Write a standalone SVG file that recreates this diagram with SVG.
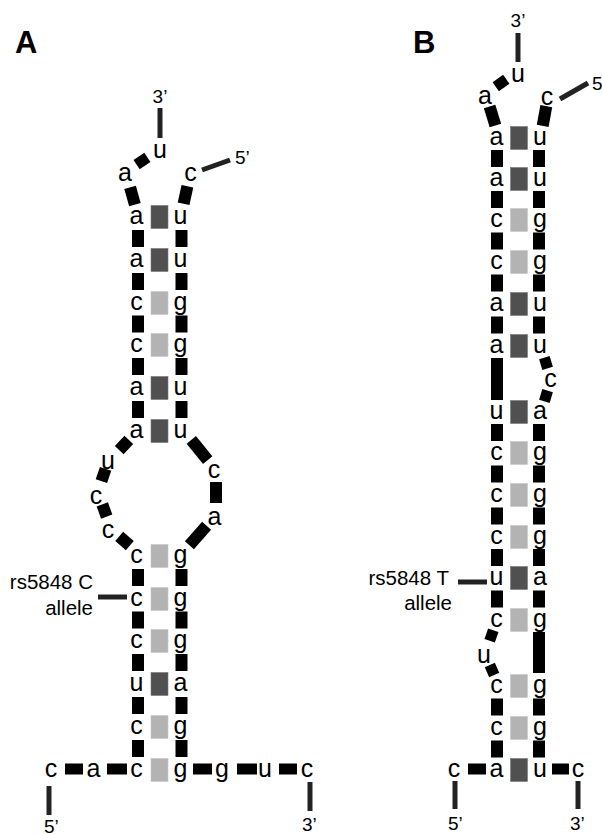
<svg xmlns="http://www.w3.org/2000/svg" width="602" height="834" viewBox="0 0 602 834">
<style>
text{font-family:"Liberation Sans",Arial,sans-serif;fill:#000}
.nt{font-size:25px;text-anchor:middle}
.lb{font-size:19px}
.mid{text-anchor:middle}
.rt{text-anchor:end}
.tag{font-size:20.5px}
.pl{font-size:31px;font-weight:bold}
.bb{stroke:#000;stroke-width:12;fill:none}
.bs{stroke:#000;stroke-width:11;fill:none}
.ln{stroke:#222;stroke-width:5;fill:none}
.dk{fill:#505050;stroke:#777;stroke-width:0.6}
.lt{fill:#b3b3b3;stroke:#c6c6c6;stroke-width:0.6}
</style>
<rect width="602" height="834" fill="#fff"/>
<text class="pl" x="15" y="53">A</text>
<text class="pl" x="413" y="53">B</text>

<g id="connectors">
<!-- Panel A backbone -->
<line class="ln" x1="160" y1="108" x2="160" y2="138"/>
<line class="ln" x1="202" y1="170" x2="230" y2="160"/>
<line class="ln" x1="49" y1="786" x2="49" y2="815"/>
<line class="ln" x1="310" y1="782" x2="310" y2="811"/>
<line class="ln" x1="98" y1="597" x2="127" y2="597"/>
<line class="bs" x1="136.6" y1="164.6" x2="147.4" y2="157.4"/>
<line class="bb" x1="130.1" y1="187.3" x2="134.9" y2="204.7"/>
<line class="bb" x1="187.4" y1="186.2" x2="183.6" y2="203.8"/>
<path class="bb" d="M138 230V247M138 273V290M138 315.5V332.5M138 358V375M138 401V418M138 569V586M138 611.5V628.5M138 654V671M138 697V714M138 740V757"/>
<path class="bb" d="M181.5 230V247M181.5 273V290M181.5 315.5V332.5M181.5 358V375M181.5 401V418M181.5 569V586M181.5 611.5V628.5M181.5 654V671M181.5 697V714M181.5 740V757"/>
<line class="bb" x1="128.8" y1="439.9" x2="119.2" y2="450.1"/>
<line class="bb" x1="105.6" y1="468.9" x2="101.4" y2="481.1"/>
<line class="bb" x1="102.3" y1="504.4" x2="106.7" y2="516.6"/>
<line class="bb" x1="119.2" y1="536.4" x2="129.8" y2="545.6"/>
<line class="bb" x1="191.3" y1="439.9" x2="207.7" y2="460.1"/>
<line class="bb" x1="216" y1="482" x2="216" y2="503"/>
<line class="bb" x1="206.6" y1="525.8" x2="189.4" y2="545.2"/>
<path class="bs" d="M65 769H83M107 769H127M193 769H212M237 769H257M279 769H297"/>
<!-- Panel B backbone -->
<line class="ln" x1="518" y1="33" x2="518" y2="62"/>
<line class="ln" x1="560" y1="99" x2="588" y2="83"/>
<line class="ln" x1="455" y1="781" x2="455" y2="809"/>
<line class="ln" x1="578" y1="781" x2="578" y2="809"/>
<line class="ln" x1="458" y1="582" x2="487" y2="582"/>
<line class="bs" x1="495.7" y1="86.7" x2="506.3" y2="79.3"/>
<line class="bb" x1="489.6" y1="106.4" x2="495.4" y2="125.6"/>
<line class="bb" x1="546.3" y1="106.2" x2="542.7" y2="125.8"/>
<path class="bb" d="M497 150V167M497 191V208M497 232.5V249.5M497 274.5V291.5M497 316.5V333.5M497 358V400M497 424V441M497 465.5V482.5M497 507.5V524.5M497 549V566M497 590.5V607.5M497 698.5V715.5M497 740.5V757.5"/>
<path class="bb" d="M539 150V167M539 191V208M539 232.5V249.5M539 274.5V291.5M539 316.5V333.5M539 424V441M539 465.5V482.5M539 507.5V524.5M539 549V566M539 590.5V607.5M539 632V673M539 698.5V715.5M539 740.5V757.5"/>
<line class="bs" x1="544.4" y1="357.7" x2="547.6" y2="368.3"/>
<line class="bs" x1="547.6" y1="390.7" x2="544.4" y2="401.3"/>
<line class="bs" x1="493.3" y1="630.3" x2="489.7" y2="640.7"/>
<line class="bs" x1="489.8" y1="665" x2="494.2" y2="675"/>
<path class="bs" d="M468 769H486M552 769H569"/>
</g>

<g id="A-pairs">
<rect class="dk" x="151" y="205.5" width="17" height="23"/>
<rect class="dk" x="151" y="248.5" width="17" height="23"/>
<rect class="lt" x="151" y="291.5" width="17" height="23"/>
<rect class="lt" x="151" y="333.5" width="17" height="23"/>
<rect class="dk" x="151" y="376.5" width="17" height="23"/>
<rect class="dk" x="151" y="419.5" width="17" height="23"/>
<rect class="lt" x="151" y="544.5" width="17" height="23"/>
<rect class="lt" x="151" y="587.5" width="17" height="23"/>
<rect class="lt" x="151" y="629.5" width="17" height="23"/>
<rect class="dk" x="151" y="672.5" width="17" height="23"/>
<rect class="lt" x="151" y="715.5" width="17" height="23"/>
<rect class="lt" x="151" y="758.5" width="17" height="23"/>
</g>
<g id="B-pairs">
<rect class="dk" x="510.5" y="126.5" width="17" height="23"/>
<rect class="dk" x="510.5" y="167.5" width="17" height="23"/>
<rect class="lt" x="510.5" y="208.5" width="17" height="23"/>
<rect class="lt" x="510.5" y="250.5" width="17" height="23"/>
<rect class="dk" x="510.5" y="292.5" width="17" height="23"/>
<rect class="dk" x="510.5" y="334.5" width="17" height="23"/>
<rect class="dk" x="510.5" y="400.5" width="17" height="23"/>
<rect class="lt" x="510.5" y="441.5" width="17" height="23"/>
<rect class="lt" x="510.5" y="483.5" width="17" height="23"/>
<rect class="lt" x="510.5" y="525.5" width="17" height="23"/>
<rect class="dk" x="510.5" y="566.5" width="17" height="23"/>
<rect class="lt" x="510.5" y="608.5" width="17" height="23"/>
<rect class="lt" x="510.5" y="674.5" width="17" height="23"/>
<rect class="lt" x="510.5" y="716.5" width="17" height="23"/>
<rect class="dk" x="510.5" y="758.5" width="17" height="23"/>
</g>

<!-- Panel A nucleotides -->
<g id="A-end3top"><text class="lb mid" x="160" y="103">3’</text></g>
<g id="A-end5top"><text class="lb" x="235" y="164">5’</text></g>
<g id="A-end5bot"><text class="lb" x="44" y="833">5’</text></g>
<g id="A-end3bot"><text class="lb" x="302" y="831">3’</text></g>
<g id="A-snp"><text class="tag rt" x="93" y="589">rs5848 C</text><text class="tag rt" x="93" y="615">allele</text></g>
<g id="A-top-u"><text class="nt" x="160" y="158">u</text></g>
<g id="A-top-a"><text class="nt" x="125" y="181">a</text></g>
<g id="A-top-c"><text class="nt" x="190.5" y="181">c</text></g>
<g id="A-L1"><text class="nt" x="136.5" y="224">a</text></g>
<g id="A-L2"><text class="nt" x="136.5" y="267">a</text></g>
<g id="A-L3"><text class="nt" x="136.5" y="310">c</text></g>
<g id="A-L4"><text class="nt" x="136.5" y="352">c</text></g>
<g id="A-L5"><text class="nt" x="136.5" y="395">a</text></g>
<g id="A-L6"><text class="nt" x="136.5" y="438">a</text></g>
<g id="A-loop-u"><text class="nt" x="108" y="469">u</text></g>
<g id="A-loop-c1"><text class="nt" x="96" y="504">c</text></g>
<g id="A-loop-c2"><text class="nt" x="108" y="538">c</text></g>
<g id="A-L7"><text class="nt" x="136.5" y="563">c</text></g>
<g id="A-L8"><text class="nt" x="136.5" y="606">c</text></g>
<g id="A-L9"><text class="nt" x="136.5" y="648">c</text></g>
<g id="A-L10"><text class="nt" x="136.5" y="691">u</text></g>
<g id="A-L11"><text class="nt" x="136.5" y="734">c</text></g>
<g id="A-L12"><text class="nt" x="136.5" y="777">c</text></g>
<g id="A-bot-a"><text class="nt" x="93.5" y="777">a</text></g>
<g id="A-bot-c"><text class="nt" x="51" y="777">c</text></g>
<g id="A-R1"><text class="nt" x="180.5" y="224">u</text></g>
<g id="A-R2"><text class="nt" x="180.5" y="267">u</text></g>
<g id="A-R3"><text class="nt" x="180.5" y="310">g</text></g>
<g id="A-R4"><text class="nt" x="180.5" y="352">g</text></g>
<g id="A-R5"><text class="nt" x="180.5" y="395">u</text></g>
<g id="A-R6"><text class="nt" x="180.5" y="438">u</text></g>
<g id="A-loop-c3"><text class="nt" x="214" y="478">c</text></g>
<g id="A-loop-a"><text class="nt" x="214.5" y="525">a</text></g>
<g id="A-R7"><text class="nt" x="180.5" y="563">g</text></g>
<g id="A-R8"><text class="nt" x="180.5" y="606">g</text></g>
<g id="A-R9"><text class="nt" x="180.5" y="648">g</text></g>
<g id="A-R10"><text class="nt" x="180.5" y="691">a</text></g>
<g id="A-R11"><text class="nt" x="180.5" y="734">g</text></g>
<g id="A-R12"><text class="nt" x="180.5" y="777">g</text></g>
<g id="A-bot-g"><text class="nt" x="222" y="777">g</text></g>
<g id="A-bot-u"><text class="nt" x="265" y="777">u</text></g>
<g id="A-bot-c2"><text class="nt" x="307" y="777">c</text></g>

<!-- Panel B nucleotides -->
<g id="B-end3top"><text class="lb mid" x="518" y="27">3’</text></g>
<g id="B-end5top"><text class="lb" x="592" y="90">5’</text></g>
<g id="B-end5bot"><text class="lb" x="448" y="830">5’</text></g>
<g id="B-end3bot"><text class="lb" x="570" y="830">3’</text></g>
<g id="B-snp"><text class="tag rt" x="449" y="585">rs5848 T</text><text class="tag rt" x="452" y="610">allele</text></g>
<g id="B-top-u"><text class="nt" x="518" y="82">u</text></g>
<g id="B-top-a"><text class="nt" x="485" y="104">a</text></g>
<g id="B-top-c"><text class="nt" x="547" y="105">c</text></g>
<g id="B-L1"><text class="nt" x="496.5" y="145">a</text></g>
<g id="B-L2"><text class="nt" x="496.5" y="186">a</text></g>
<g id="B-L3"><text class="nt" x="496.5" y="227">c</text></g>
<g id="B-L4"><text class="nt" x="496.5" y="269">c</text></g>
<g id="B-L5"><text class="nt" x="496.5" y="311">a</text></g>
<g id="B-L6"><text class="nt" x="496.5" y="353">a</text></g>
<g id="B-L7"><text class="nt" x="496.5" y="419">u</text></g>
<g id="B-L8"><text class="nt" x="496.5" y="460">c</text></g>
<g id="B-L9"><text class="nt" x="496.5" y="502">c</text></g>
<g id="B-L10"><text class="nt" x="496.5" y="544">c</text></g>
<g id="B-L11"><text class="nt" x="496.5" y="585">u</text></g>
<g id="B-L12"><text class="nt" x="496.5" y="627">c</text></g>
<g id="B-bulge-u"><text class="nt" x="484" y="663">u</text></g>
<g id="B-L13"><text class="nt" x="496.5" y="693">c</text></g>
<g id="B-L14"><text class="nt" x="496.5" y="735">c</text></g>
<g id="B-L15"><text class="nt" x="496.5" y="777">a</text></g>
<g id="B-bot-c"><text class="nt" x="454" y="777">c</text></g>
<g id="B-R1"><text class="nt" x="540" y="145">u</text></g>
<g id="B-R2"><text class="nt" x="540" y="186">u</text></g>
<g id="B-R3"><text class="nt" x="540" y="227">g</text></g>
<g id="B-R4"><text class="nt" x="540" y="269">g</text></g>
<g id="B-R5"><text class="nt" x="540" y="311">u</text></g>
<g id="B-R6"><text class="nt" x="540" y="353">u</text></g>
<g id="B-bulge-c"><text class="nt" x="550.5" y="387">c</text></g>
<g id="B-R7"><text class="nt" x="540" y="419">a</text></g>
<g id="B-R8"><text class="nt" x="540" y="460">g</text></g>
<g id="B-R9"><text class="nt" x="540" y="502">g</text></g>
<g id="B-R10"><text class="nt" x="540" y="544">g</text></g>
<g id="B-R11"><text class="nt" x="540" y="585">a</text></g>
<g id="B-R12"><text class="nt" x="540" y="627">g</text></g>
<g id="B-R13"><text class="nt" x="540" y="693">g</text></g>
<g id="B-R14"><text class="nt" x="540" y="735">g</text></g>
<g id="B-R15"><text class="nt" x="540" y="777">u</text></g>
<g id="B-bot-c2"><text class="nt" x="578" y="777">c</text></g>
</svg>
